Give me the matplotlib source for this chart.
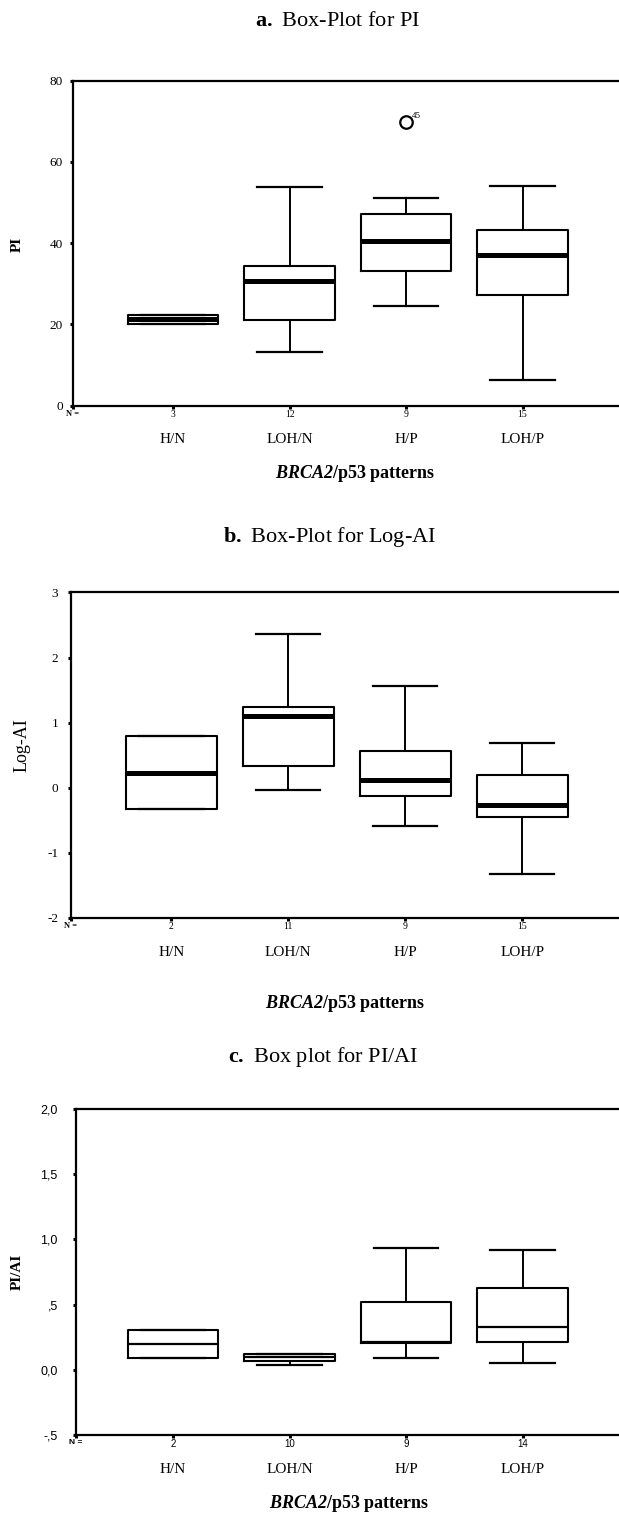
import numpy as np
import matplotlib
matplotlib.use('Agg')
import matplotlib.pyplot as plt

plt.rcParams['font.family'] = 'Liberation Serif'
plt.rcParams['mathtext.fontset'] = 'custom'
plt.rcParams['mathtext.rm'] = 'Liberation Serif'
plt.rcParams['mathtext.bf'] = 'Liberation Serif:bold'
# sf is used for the bold italic gene name (it would set digits upright)
plt.rcParams['mathtext.sf'] = 'Liberation Serif:italic:bold'

groups = ['H/N', 'LOH/N', 'H/P', 'LOH/P']

# a. PI
pi_n = [3, 12, 9, 15]
pi_lo = [20.0, 13.2, 24.5, 6.2]
pi_q1 = [20.0, 21.1, 33.1, 27.1]
pi_med = [21.2, 30.6, 40.5, 37.0]
pi_q3 = [22.2, 34.4, 47.1, 43.2]
pi_hi = [22.2, 53.9, 51.0, 54.1]
pi_outliers = [[], [], [69.7], []]
pi_outlier_ids = ['45']

# b. Log-AI
lai_n = [2, 11, 9, 15]
lai_lo = [-0.32, -0.04, -0.58, -1.32]
lai_q1 = [-0.32, 0.33, -0.13, -0.45]
lai_med = [0.23, 1.10, 0.12, -0.27]
lai_q3 = [0.79, 1.24, 0.56, 0.19]
lai_hi = [0.79, 2.37, 1.56, 0.69]

# c. PI/AI
ratio_n = [2, 10, 9, 14]
ratio_lo = [0.091, 0.034, 0.091, 0.052]
ratio_q1 = [0.091, 0.065, 0.208, 0.216]
ratio_med = [0.195, 0.096, 0.216, 0.332]
ratio_q3 = [0.306, 0.125, 0.52, 0.63]
ratio_hi = [0.306, 0.125, 0.935, 0.922]

W, H = 619, 1514
fig = plt.figure(figsize=(W / 100, H / 100), dpi=100)

XLABEL = r'$\mathsf{BRCA2}$/p53 patterns'


def px_axes(left, top, bottom):
    return fig.add_axes([left / W, 1 - bottom / H, 1 - left / W, (bottom - top) / H])


def stats(lo, q1, med, q3, hi, fl=None):
    out = []
    for i in range(len(lo)):
        out.append(dict(whislo=lo[i], q1=q1[i], med=med[i], q3=q3[i], whishi=hi[i],
                        fliers=(fl[i] if fl else [])))
    return out


def draw_panel(ax, st, ns, ylim, yticks, yticklabels, xleft, medlw, sans, ypad):
    pos = np.arange(1, len(groups) + 1)
    ax.bxp(st, positions=pos, widths=0.78, capwidths=0.55, showfliers=True,
           boxprops=dict(color='black', lw=1.5),
           whiskerprops=dict(color='black', lw=1.4),
           capprops=dict(color='black', lw=1.6),
           medianprops=dict(color='black', lw=medlw, solid_capstyle='butt'),
           flierprops=dict(marker='o', mfc='none', mec='black', ms=9, mew=1.6))
    ax.set_xlim(xleft, 1 + (W - 173) / 116.5)
    ax.set_ylim(*ylim)
    ax.spines['right'].set_visible(False)
    for s in ['left', 'top', 'bottom']:
        ax.spines[s].set_linewidth(1.6)
    ax.set_yticks(yticks)
    ax.set_yticklabels(yticklabels)
    tickfont = 'Liberation Sans' if sans else 'Liberation Serif'
    ax.tick_params(axis='y', direction='out', length=2.2, width=2.2, pad=ypad,
                   labelsize=9.5 if not sans else 9)
    for t in ax.get_yticklabels():
        t.set_family(tickfont)
    ax.set_xticks([xleft] + list(pos))
    ax.set_xticklabels(['N ='] + [str(n) for n in ns])
    ax.tick_params(axis='x', direction='out', length=2.2, width=2.2, pad=1, labelsize=7)
    for t in ax.get_xticklabels():
        t.set_family(tickfont)
    ax.get_xticklabels()[0].set_fontweight('bold')
    ax.get_xticklabels()[0].set_fontsize(6)
    trans = ax.get_xaxis_transform()
    for p, g in zip(pos, groups):
        ax.text(p, -0.105, g, transform=trans, ha='center', va='center', fontsize=11)


# panel a
ax1 = px_axes(73, 80.5, 405.5)
draw_panel(ax1, stats(pi_lo, pi_q1, pi_med, pi_q3, pi_hi, pi_outliers), pi_n,
           (0, 80), [0, 20, 40, 60, 80], ['0', '20', '40', '60', '80'],
           1 - 100 / 116.5, 3.6, False, 5)
ax1.annotate(pi_outlier_ids[0], (3, pi_outliers[2][0]), xytext=(4.5, 1.5),
             textcoords='offset points', fontsize=6.5, va='bottom')
fig.text(338 / W, 1 - 21 / H, r'$\mathbf{a.}$ Box-Plot for PI', ha='center', va='center', fontsize=16)
fig.text(17 / W, 1 - 244 / H, 'PI', rotation=90, ha='center', va='center', fontsize=11, fontweight='bold')
fig.text(355 / W, 1 - 473 / H, XLABEL, ha='center', va='center', fontsize=13, fontweight='bold')

# panel b
ax2 = px_axes(71, 592.5, 918)
draw_panel(ax2, stats(lai_lo, lai_q1, lai_med, lai_q3, lai_hi), lai_n,
           (-2, 3), [-2, -1, 0, 1, 2, 3], ['-2', '-1', '0', '1', '2', '3'],
           1 - 100 / 116.5, 3.6, False, 7)
fig.text(330 / W, 1 - 537 / H, r'$\mathbf{b.}$ Box-Plot for Log-AI', ha='center', va='center', fontsize=16)
fig.text(22 / W, 1 - 745 / H, 'Log-AI', rotation=90, ha='center', va='center', fontsize=13)
fig.text(345 / W, 1 - 1004 / H, XLABEL, ha='center', va='center', fontsize=13, fontweight='bold')

# panel c
ax3 = px_axes(76, 1109, 1435)
draw_panel(ax3, stats(ratio_lo, ratio_q1, ratio_med, ratio_q3, ratio_hi), ratio_n,
           (-0.5, 2.0), [-0.5, 0, 0.5, 1.0, 1.5, 2.0], ['-,5', '0,0', ',5', '1,0', '1,5', '2,0'],
           1 - 97 / 116.5, 1.6, True, 11)
fig.text(323 / W, 1 - 1057 / H, r'$\mathbf{c.}$ Box plot for PI/AI', ha='center', va='center', fontsize=16)
fig.text(17 / W, 1 - 1272 / H, 'PI/AI', rotation=90, ha='center', va='center', fontsize=11, fontweight='bold')
fig.text(349 / W, 1 - 1503 / H, XLABEL, ha='center', va='center', fontsize=13, fontweight='bold')

fig.savefig('out.png', dpi=100)
